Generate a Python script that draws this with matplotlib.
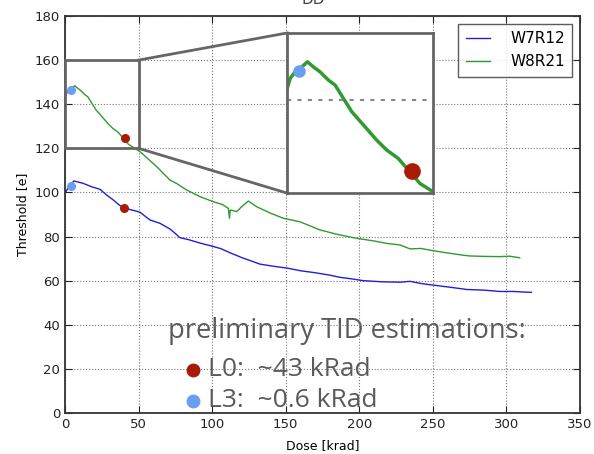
import matplotlib
matplotlib.use("Agg")
import matplotlib.pyplot as plt
from matplotlib.patches import Rectangle

# threshold vs dose
dose_w7r12 = [0, 1, 3, 6.1, 12, 18, 23.8, 28, 32.8, 36.5, 40.3, 44, 48, 51, 57.8, 64.6,
              71.4, 76, 78, 84, 92, 100.8, 106, 112, 120, 132.5, 142, 151, 160, 170,
              180, 187, 195, 202.7, 215, 227.7, 234.5, 242, 250, 262, 273, 285, 295.6,
              305, 310, 317]
thr_w7r12 = [99.5, 100.8, 103, 105.2, 104.2, 102.6, 101.4, 99, 96.6, 94.5, 92.8, 92.3,
             91.6, 91, 87.5, 86, 83.4, 80.8, 79.5, 78.6, 77, 75.5, 74.5, 72.7, 70.5, 67.5,
             66.5, 65.7, 64.5, 63.6, 62.5, 61.5, 60.8, 60, 59.5, 59.3, 59.7, 58.7, 58,
             57, 56, 55.7, 55.1, 55.1, 54.9, 54.7]

dose_w8r21 = [0, 1, 2.6, 4.8, 6.6, 8.5, 10.7, 13.4, 15.6, 18.3, 21, 24.8, 29.1, 32.4,
              36.1, 39.9, 43.2, 47, 51, 56, 62.3, 71.4, 76, 82.7, 91.7, 100.8, 107, 111,
              111.8, 112.3, 114.4, 116.7, 120, 124.6, 130.3, 140, 148.4, 159.7, 173.3,
              185, 198.2, 210, 218.6, 227.7, 234.5, 242, 250, 261.6, 270, 275, 285,
              295.6, 302, 309]
thr_w8r21 = [142.6, 144.8, 146.2, 147.3, 148.4, 147.3, 146.2, 144.4, 143.3, 140.4, 137.5,
             134.6, 131.3, 129.1, 127.3, 124.4, 121.8, 120.2, 118.5, 115.5, 111.7, 105.6,
             104, 101.1, 98.1, 95.8, 94.5, 92.8, 88.3, 92, 91.7, 91.3, 93.5, 96.1, 93.5,
             90.5, 88.3, 86.7, 83, 81, 79.2, 78, 76.9, 76.2, 74.4, 74.6, 73.6, 72.4, 71.6,
             71.2, 71, 70.9, 71.1, 70.4]

# estimated working points (blue = L3, red = L0)
l3_dose = [3.9, 3.9]
l3_thr = [102.9, 146.4]
l0_dose = [40.3, 40.6]
l0_thr = [92.8, 124.5]

c_blue = "#1f1fd6"
c_green = "#2f9a2f"
c_red = "#a81c07"
c_lblue = "#6a9ef0"
c_frame = "#666666"
c_text = "#5a5a5a"

fig = plt.figure(figsize=(5.94, 4.54), dpi=100)
ax = fig.add_axes([0.1094, 0.0903, 0.8670, 0.8745])

ax.plot(dose_w7r12, thr_w7r12, color=c_blue, lw=1, label="W7R12")
ax.plot(dose_w8r21, thr_w8r21, color=c_green, lw=1, label="W8R21")
ax.plot(l3_dose, l3_thr, "o", color=c_lblue, ms=5.5, zorder=5)
ax.plot(l0_dose, l0_thr, "o", color=c_red, ms=5.5, zorder=5)

ax.set_xlim(0, 350)
ax.set_ylim(0, 180)
ax.set_xticks(range(0, 351, 50))
ax.set_yticks(range(0, 181, 20))
ax.tick_params(direction="in", top=True, right=True, length=5, labelsize=9.5,
               colors="#222222")
ax.grid(True, color="#777777", ls=":", lw=0.8)
for sp in ax.spines.values():
    sp.set_color("#333333")
    sp.set_linewidth(1.3)
ax.set_xlabel("Dose [krad]", fontsize=9, labelpad=6)
ax.set_ylabel("Threshold [e]", fontsize=9, labelpad=4)

leg = ax.legend(loc="upper right", fontsize=11, fancybox=False, borderaxespad=0.5,
                handlelength=1.6, handletextpad=1.3, borderpad=0.5)
leg.get_frame().set_edgecolor("#333333")
leg.get_frame().set_linewidth(1)

# zoom box and inset
zoom_x, zoom_y = (0, 50), (120, 160)
ins_x, ins_y = (151, 250), (99.7, 172.3)
ax.add_patch(Rectangle((zoom_x[0], zoom_y[0]), zoom_x[1] - zoom_x[0], zoom_y[1] - zoom_y[0],
                       fill=False, ec=c_frame, lw=2, zorder=6, clip_on=False))
ax.plot([zoom_x[1], ins_x[0]], [zoom_y[1], ins_y[1]], color=c_frame, lw=2, zorder=6)
ax.plot([zoom_x[1], ins_x[0]], [zoom_y[0], ins_y[0]], color=c_frame, lw=2, zorder=6)

axi = ax.inset_axes([ins_x[0], ins_y[0], ins_x[1] - ins_x[0], ins_y[1] - ins_y[0]],
                    transform=ax.transData, zorder=7)
axi.plot(dose_w8r21, thr_w8r21, color=c_green, lw=2.5)
axi.plot(l3_dose, l3_thr, "o", color=c_lblue, ms=8)
axi.plot(l0_dose, l0_thr, "o", color=c_red, ms=11)
axi.axhline(140, color="#888888", ls=(0, (2, 3)), lw=1.5)
axi.set_xlim(0, 47.4)
axi.set_ylim(119.7, 154.7)
axi.set_xticks([])
axi.set_yticks([])
for sp in axi.spines.values():
    sp.set_color(c_frame)
    sp.set_linewidth(2)

# annotation text, kept under the grid like in the original
fig.text(313 / 594, 1.0, "DD", ha="center", va="center", fontsize=11, color="#444444")
big = dict(family=["Open Sans", "DejaVu Sans"], color=c_text, fontsize=19,
           va="baseline", transform=fig.transFigure, zorder=1)
ax.text(168 / 594, 1 - 338 / 454, "preliminary TID estimations:",
        **{**big, "fontsize": 19.6})
ax.text(208 / 594, 1 - 376 / 454, "L0:  ~43 kRad", **big)
ax.text(208 / 594, 1 - 407 / 454, "L3:  ~0.6 kRad", **big)
ax.plot([193 / 594], [1 - 370 / 454], "o", ms=9, color=c_red,
        transform=fig.transFigure, clip_on=False)
ax.plot([193 / 594], [1 - 401 / 454], "o", ms=9, color=c_lblue,
        transform=fig.transFigure, clip_on=False)

fig.savefig("out.png", dpi=100)
